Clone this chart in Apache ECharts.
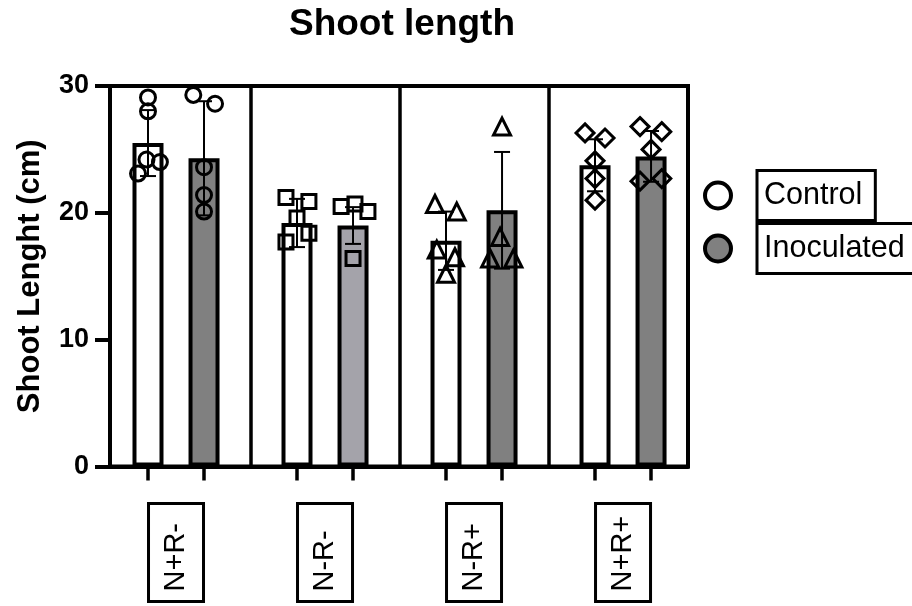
<!DOCTYPE html>
<html>
<head>
<meta charset="utf-8">
<script src="https://cdn.jsdelivr.net/npm/echarts@6/dist/echarts.min.js"></script>
<style>html,body{margin:0;padding:0;background:#fff}#c{width:912px;height:606px}</style>
</head>
<body>
<div id="c"></div>
<script>
// ---- data ----
const categories = ['N+R-', 'N-R-', 'N-R+', 'N+R+'];
const controlMean = [25.5, 19.2, 17.8, 23.75];
const inocMean = [24.3, 19.0, 20.2, 24.45];
const controlSD = [2.6, 1.9, 2.3, 2.05];
const inocSD = [4.5, 1.45, 4.6, 2.0];
const controlPoints = [[29.1, 28.0, 24.2, 24.0, 23.1], [21.2, 20.9, 19.6, 18.4, 17.7], [20.7, 20.1, 17.1, 16.5, 15.2], [26.3, 25.9, 24.1, 22.7, 21.0]];
const controlJitter = [[0, 0, -0.01, 0.08, -0.067], [-0.074, 0.08, 0, 0.08, -0.074], [-0.074, 0.072, -0.062, 0.06, 0], [-0.067, 0.067, 0, 0, 0]];
const inocPoints = [[29.3, 28.6, 23.6, 21.4, 20.1], [20.5, 20.7, 20.1, 16.4], [26.8, 18.1, 16.4, 16.4], [26.8, 26.4, 25.0, 22.5, 22.7]];
const inocJitter = [[-0.072, 0.074, 0, 0, 0], [-0.08, 0.013, 0.1, 0], [0, -0.013, -0.08, 0.076], [-0.074, 0.072, 0, -0.074, 0.072]];
const yTicks = [0, 10, 20, 30];
const seriesNames = ['Control', 'Inoculated'];

// ---- layout / style ----
const OFF = 0.188;
const FONT = '"Liberation Sans", Arial, Helvetica, sans-serif';
const symbols = ['circle', 'rect', 'triangle', 'diamond'];
const symbolSizes = [15, 14, 17, 18];
const inocColors = ['#808080', '#a4a3aa', '#808080', '#808080'];

const ctrlX = categories.map((c, i) => i - OFF);
const inocX = categories.map((c, i) => i + OFF);

const ctrlBars = controlMean.map((v, i) => ({ value: [ctrlX[i], v] }));
const inocBars = inocMean.map((v, i) => ({ value: [inocX[i], v], itemStyle: { color: inocColors[i] } }));

const errData = [];
controlMean.forEach((m, i) => errData.push([ctrlX[i], m - controlSD[i], m + controlSD[i]]));
inocMean.forEach((m, i) => errData.push([inocX[i], m - inocSD[i], m + inocSD[i]]));

const ctrlPts = [], inocPts = [];
controlPoints.forEach((arr, g) => arr.forEach((v, k) => ctrlPts.push([ctrlX[g] + controlJitter[g][k], v, g])));
inocPoints.forEach((arr, g) => arr.forEach((v, k) => inocPts.push([inocX[g] + inocJitter[g][k], v, g])));

const scatterCommon = {
  type: 'scatter',
  symbol: (val) => symbols[val[2]],
  symbolSize: (val) => symbolSizes[val[2]],
  itemStyle: { color: 'rgba(0,0,0,0)', borderColor: '#000', borderWidth: 3, opacity: 1 },
  z: 5,
  silent: true,
  clip: false
};

const chart = echarts.init(document.getElementById('c'), null, { renderer: 'canvas' });
chart.setOption({
  animation: false,
  backgroundColor: '#fff',
  textStyle: { fontFamily: FONT },
  title: {
    text: 'Shoot length',
    left: 397, top: 1, textAlign: 'center',
    textStyle: { fontFamily: FONT, fontWeight: 'bold', fontSize: 37, color: '#000' }
  },
  legend: {
    orient: 'vertical',
    left: 703, top: 169, padding: 0,
    itemWidth: 68, itemHeight: 26, itemGap: 0,
    selectedMode: false,
    data: [
      { name: seriesNames[0], icon: 'circle', itemStyle: { color: '#fff', borderColor: '#000', borderWidth: 4 } },
      { name: seriesNames[1], icon: 'circle', itemStyle: { color: '#808080', borderColor: '#000', borderWidth: 4 } }
    ],
    textStyle: {
      fontFamily: FONT, fontSize: 30.5, color: '#000', lineHeight: 30,
      borderColor: '#000', borderWidth: 3, padding: [10, 13, 10, 7]
    }
  },
  grid: {
    left: 110, right: 224, top: 86, bottom: 136,
    show: true, borderColor: '#000', borderWidth: 4, backgroundColor: 'rgba(0,0,0,0)'
  },
  xAxis: {
    type: 'value',
    min: -0.443, max: 3.436,
    splitLine: { show: false },
    axisLine: { show: true, onZero: false, lineStyle: { color: '#000', width: 4 } },
    axisTick: { show: true, customValues: ctrlX.concat(inocX), length: 14, lineStyle: { color: '#000', width: 3.5 } },
    axisLabel: {
      customValues: categories.map((c, i) => i),
      formatter: (v) => categories[Math.round(v)],
      rotate: 90, align: 'left', verticalAlign: 'middle',
      margin: 135,
      fontFamily: FONT, fontSize: 29, color: '#000', lineHeight: 29,
      width: 74, overflow: 'none',
      borderColor: '#000', borderWidth: 3, padding: [13, 14, 13, 10]
    }
  },
  yAxis: {
    type: 'value',
    min: yTicks[0], max: yTicks[yTicks.length - 1], interval: 10,
    name: 'Shoot Lenght (cm)',
    nameLocation: 'middle', nameGap: 64,
    nameTextStyle: { fontFamily: FONT, fontWeight: 'bold', fontSize: 31, color: '#000' },
    splitLine: { show: false },
    axisLine: { show: true, onZero: false, lineStyle: { color: '#000', width: 4 } },
    axisTick: { show: true, length: 15, lineStyle: { color: '#000', width: 4 } },
    axisLabel: { margin: 21, fontFamily: FONT, fontWeight: 'bold', fontSize: 27, color: '#000' }
  },
  series: [
    {
      name: seriesNames[0], type: 'bar', data: ctrlBars, barWidth: 31, barGap: '-100%',
      itemStyle: { color: '#fff', borderColor: '#000', borderWidth: 4 }, z: 2, silent: true,
      markLine: {
        silent: true, symbol: 'none', label: { show: false },
        lineStyle: { color: '#000', width: 3.5, type: 'solid' },
        data: [{ xAxis: 0.5 }, { xAxis: 1.5 }, { xAxis: 2.5 }]
      }
    },
    {
      name: seriesNames[1], type: 'bar', data: inocBars, barWidth: 31, barGap: '-100%',
      itemStyle: { color: '#808080', borderColor: '#000', borderWidth: 4 }, z: 2, silent: true
    },
    {
      name: 'error', type: 'custom', data: errData, z: 4, silent: true,
      encode: { x: 0, y: [1, 2] },
      renderItem: function (params, api) {
        const x = api.value(0);
        const lo = api.coord([x, api.value(1)]);
        const hi = api.coord([x, api.value(2)]);
        const hw = 8;
        const st = { stroke: '#000', lineWidth: 2 };
        return {
          type: 'group', children: [
            { type: 'line', shape: { x1: lo[0], y1: lo[1], x2: hi[0], y2: hi[1] }, style: st },
            { type: 'line', shape: { x1: lo[0] - hw, y1: lo[1], x2: lo[0] + hw, y2: lo[1] }, style: st },
            { type: 'line', shape: { x1: hi[0] - hw, y1: hi[1], x2: hi[0] + hw, y2: hi[1] }, style: st }
          ]
        };
      }
    },
    Object.assign({ name: 'Control points', data: ctrlPts }, scatterCommon),
    Object.assign({ name: 'Inoculated points', data: inocPts }, scatterCommon)
  ]
});
</script>
</body>
</html>
